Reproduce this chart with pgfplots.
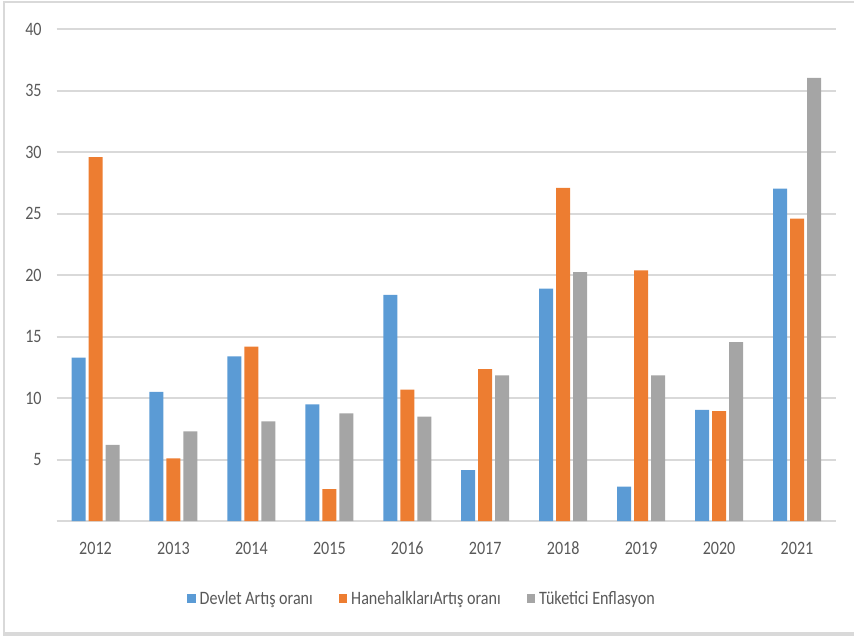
\documentclass[border=0pt]{standalone}
\usepackage{fontspec}
\setmainfont{Carlito}[FakeStretch=0.85]
\usepackage{pgfplots}
\pgfplotsset{compat=1.18}

\definecolor{devlet}{HTML}{5B9BD5}
\definecolor{hane}{HTML}{ED7D31}
\definecolor{tuketici}{HTML}{A5A5A5}
\definecolor{txt}{HTML}{595959}
\definecolor{gridc}{HTML}{D9D9D9}

\pgfplotstableread{
x  devlet  hane   tuk
0  13.3    29.6   6.2
1  10.5    5.1    7.3
2  13.4    14.2   8.1
3  9.5     2.6    8.75
4  18.4    10.7   8.5
5  4.15    12.35  11.85
6  18.9    27.1   20.25
7  2.8     20.4   11.85
8  9.05    8.95   14.55
9  27.05   24.6   36.05
}\rates

\begin{document}
\begin{tikzpicture}
% outer frame of the chart
\path[use as bounding box] (0pt,0pt) rectangle (640.5pt,477pt);
\draw[gridc, line width=1.5pt] (3pt,2.5pt) -- (3pt,475.5pt);
\draw[gridc, line width=1.5pt] (2.25pt,475.5pt) -- (640.5pt,475.5pt);
\draw[gridc, line width=2.5pt] (2.25pt,1.5pt) -- (640.5pt,1.5pt);

\begin{axis}[
  at={(42.4pt,86.2pt)}, anchor=south west,
  scale only axis, width=584.6pt, height=368.8pt,
  ybar, bar width=10.5pt, ybar=2.25pt,
  xmin=-0.5, xmax=9.5, ymin=0, ymax=40,
  xtick={0,...,9},
  xticklabels={2012,2013,2014,2015,2016,2017,2018,2019,2020,2021},
  ytick={5,10,...,40},
  ymajorgrids, grid style={gridc, line width=1.5pt},
  axis x line*=bottom, axis y line*=left,
  x axis line style={gridc, line width=1.5pt, -},
  y axis line style={draw=none},
  major tick length=0pt,
  /pgf/number format/assume math mode=true,
  tick label style={text=txt, font=\fontsize{14.2}{16}\selectfont, inner sep=0pt},
  xticklabel style={anchor=north, yshift=-15.5pt},
  yticklabel style={anchor=east, xshift=-11pt},
  legend columns=3,
  legend style={at={(0.4676,-0.158)}, anchor=center, draw=none, fill=none,
    font=\fontsize{14.2}{16}\selectfont, text=txt,
    nodes={inner sep=0pt},
    /tikz/every odd column/.append style={column sep=3pt},
    /tikz/every even column/.append style={column sep=19.5pt}},
  legend image code/.code={\fill[#1] (0pt,-3.3pt) rectangle (6.3pt,3.3pt);},
  every axis plot/.append style={draw=none},
]
\addplot[fill=devlet] table[x=x, y=devlet] {\rates};
\addplot[fill=hane] table[x=x, y=hane] {\rates};
\addplot[fill=tuketici] table[x=x, y=tuk] {\rates};
\legend{Devlet Artış oranı, HanehalklarıArtış oranı, Tüketici Enflasyon}
\end{axis}
\end{tikzpicture}
\end{document}
